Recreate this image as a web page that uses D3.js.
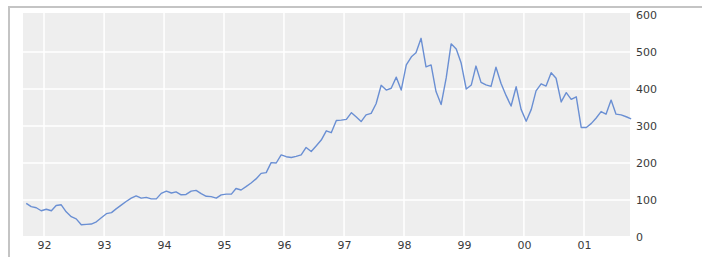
<!DOCTYPE html>
<html>
<head>
<meta charset="utf-8">
<script src="https://cdn.jsdelivr.net/npm/d3@7"></script>
<style>
  body { margin: 0; background: #fff; }
  svg { display: block; }
  .tick text { font-family: 'DejaVu Sans', Verdana, sans-serif; font-size: 11px; fill: #3a3a3a; }
</style>
</head>
<body>
<div id="chart"></div>
<script>
// monthly values (mid-month), Sep 1991 .. Oct 2001
const startMonth = new Date(1991, 8, 15);
const values = [
  91, 82, 79, 71, 75, 71, 85, 87, 68, 55, 49, 33, 34, 35, 41, 52, 63, 66, 76, 86,
  96, 105, 111, 105, 107, 103, 103, 118, 124, 119, 122, 114, 115, 124, 126, 117, 110, 109, 105, 114,
  116, 116, 131, 127, 136, 146, 157, 172, 174, 201, 200, 222, 217, 215, 218, 222, 242, 231, 246, 262,
  287, 282, 315, 316, 318, 336, 325, 312, 330, 334, 360, 410, 397, 402, 432, 397, 465, 487, 498, 537,
  460, 465, 393, 358, 430, 522, 508, 470, 400, 411, 462, 418, 411, 407, 459, 415, 382, 354, 406, 345,
  313, 345, 395, 414, 408, 444, 429, 365, 390, 372, 379, 296, 296, 307, 321, 339, 332, 370, 332, 330,
  325, 319
];
const yearTicks = [1992, 1993, 1994, 1995, 1996, 1997, 1998, 1999, 2000, 2001];
const yTicks = [0, 100, 200, 300, 400, 500, 600];

const width = 702;
const height = 257;
const plot = {left: 23, right: 630, top: 13, bottom: 236};

const data = values.map((v, i) => ({
  date: d3.timeMonth.offset(startMonth, i),
  value: v
}));

const svg = d3
  .select('#chart')
  .append('svg')
  .attr('width', width)
  .attr('height', height);

// outer frame (top and left edges only)
svg.append('path')
  .attr('d', `M9,${height}V7H${width}`)
  .attr('fill', 'none')
  .attr('stroke', '#c4c4c4')
  .attr('stroke-width', 2);

const x = d3.scaleTime()
  .domain([new Date(1992, 0, 1), new Date(2001, 0, 1)])
  .range([44, 584]);

const y = d3.scaleLinear()
  .domain([0, 600])
  .range([237, 15]);

svg.append('rect')
  .attr('x', plot.left)
  .attr('y', plot.top)
  .attr('width', plot.right - plot.left)
  .attr('height', plot.bottom - plot.top)
  .attr('fill', '#eeeeee');

// grid
const grid = svg.append('g').attr('stroke', '#fff').attr('stroke-width', 1.5);
grid.selectAll('.vgrid')
  .data(yearTicks)
  .enter()
  .append('line')
  .attr('class', 'vgrid')
  .attr('x1', d => x(new Date(d, 0, 1)))
  .attr('x2', d => x(new Date(d, 0, 1)))
  .attr('y1', plot.top)
  .attr('y2', plot.bottom);
grid.selectAll('.hgrid')
  .data(yTicks.filter(d => d > 0 && d < 600))
  .enter()
  .append('line')
  .attr('class', 'hgrid')
  .attr('x1', plot.left)
  .attr('x2', plot.right)
  .attr('y1', d => y(d))
  .attr('y2', d => y(d));

const line = d3.line()
  .x(d => x(d.date))
  .y(d => y(d.value));

svg.append('path')
  .datum(data)
  .attr('fill', 'none')
  .attr('stroke', '#6a8fd3')
  .attr('stroke-width', 1.4)
  .attr('stroke-linejoin', 'round')
  .attr('d', line);

// axes, no domain lines or tick marks
const xAxis = d3.axisBottom(x)
  .tickValues(yearTicks.map(d => new Date(d, 0, 1)))
  .tickFormat(d3.timeFormat('%y'))
  .tickSize(0)
  .tickPadding(0);

svg.append('g')
  .attr('transform', 'translate(0,241)')
  .call(xAxis)
  .call(g => g.select('.domain').remove())
  .selectAll('text')
  .attr('dy', '0.71em');

const yAxis = d3.axisRight(y)
  .tickValues(yTicks)
  .tickSize(0)
  .tickPadding(0);

svg.append('g')
  .attr('transform', 'translate(636,0)')
  .call(yAxis)
  .call(g => g.select('.domain').remove());
</script>
</body>
</html>
